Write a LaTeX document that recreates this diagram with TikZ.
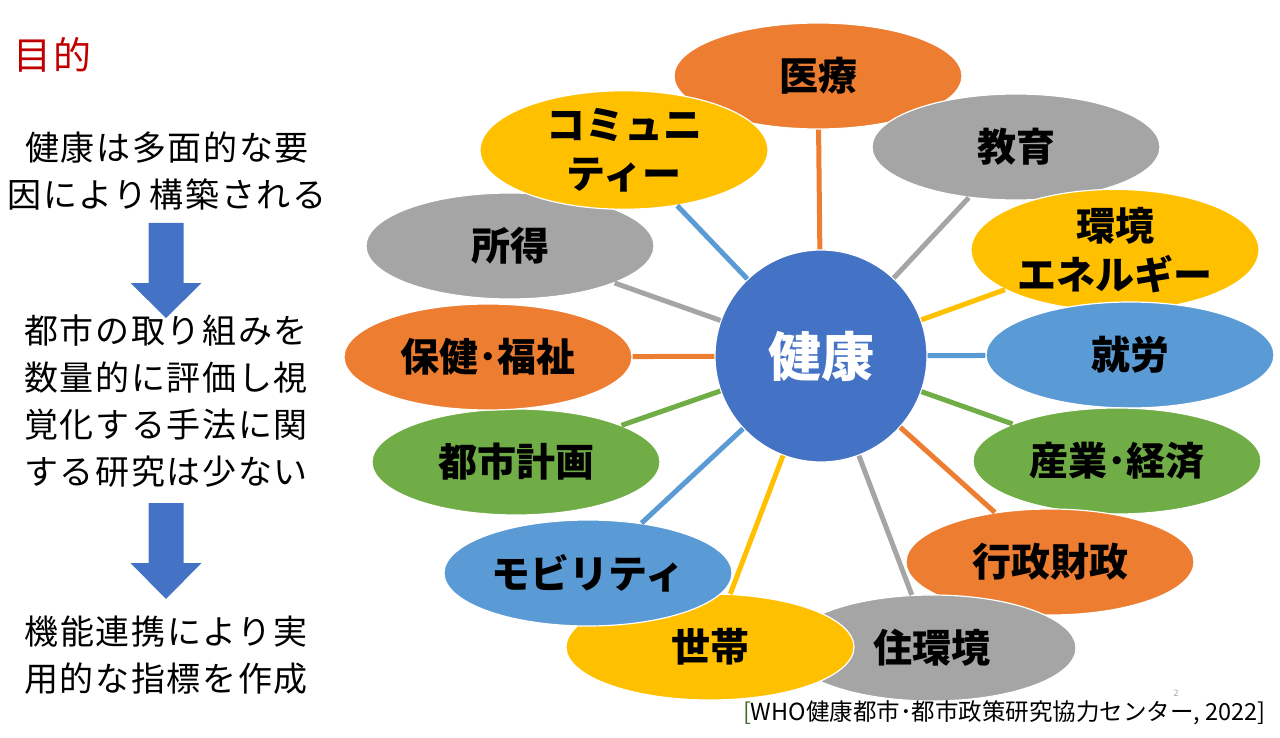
\documentclass[tikz,border=0pt]{standalone}
\usepackage{fontspec}
\usepackage{xcolor}
\usetikzlibrary{shapes.geometric, positioning}
\newfontfamily\jpfont{Noto Sans CJK JP}
\newfontfamily\jpwide{Noto Sans CJK JP}[LetterSpace=5]
\definecolor{hOrange}{HTML}{ED7D31}
\definecolor{hGray}{HTML}{A5A5A5}
\definecolor{hYellow}{HTML}{FFC000}
\definecolor{hBlue}{HTML}{5B9BD5}
\definecolor{hGreen}{HTML}{70AD47}
\definecolor{hCore}{HTML}{4472C4}
\definecolor{hRed}{HTML}{C00000}

\begin{document}
\begin{tikzpicture}[
    x=1pt, y=-1pt,
    factor/.style={ellipse, draw=white, line width=1.2pt, minimum width=288pt,
                   minimum height=106pt, inner sep=0pt, align=center,
                   font=\jpfont\bfseries\fontsize{39}{49}\selectfont},
    core/.style={circle, draw=white, line width=1.2pt, fill=hCore, minimum size=212pt,
                 inner sep=0pt, text=white, font=\jpfont\bfseries\fontsize{53}{60}\selectfont},
    body/.style={align=center, inner sep=0pt, font=\jpwide\fontsize{34}{47}\selectfont},
    spoke/.style={line width=5pt},
    flow/.style={fill=hCore},
  ]
    \useasboundingbox (0,0) rectangle (1280,738);

    % Left column
    \node[body, text=hRed, anchor=west, font=\jpwide\fontsize{38}{47}\selectfont] (goal) at (13,55) {目的};
    \node[body] (cause) at (167,171) {健康は多面的な要\\因により構築される};
    \node[body] (gap)   at (166,401) {都市の取り組みを\\数量的に評価し視\\覚化する手法に関\\する研究は少ない};
    \node[body] (aim)   at (166,655) {機能連携により実\\用的な指標を作成};

    \coordinate (flow1) at (166,223);
    \coordinate (flow2) at (166,503);
    \fill[flow] (flow1) ++(-17.5,0) -- ++(35,0) -- ++(0,60) -- ++(18,0) -- ++(-35.5,35)
      -- ++(-35.5,-35) -- ++(18,0) -- cycle;
    \fill[flow] (flow2) ++(-17.5,0) -- ++(35,0) -- ++(0,60) -- ++(18,0) -- ++(-35.5,36)
      -- ++(-35.5,-36) -- ++(18,0) -- cycle;

    % Factors
    \node[factor, fill=hOrange] (iryo)   at (818,76)   {医療};
    \node[factor, fill=hGray]   (kyoiku) at (1016,147) {教育};
    \node[factor, fill=hYellow] (kankyo) at (1115,250) {環境\\エネルギー};
    \node[factor, fill=hBlue]   (shuro)  at (1130,355) {就労};
    \node[factor, fill=hGreen]  (sangyo) at (1117,461) {産業･経済};
    \node[factor, fill=hOrange] (gyosei) at (1050,562) {行政財政};
    \node[factor, fill=hGray]   (jukan)  at (932,648)  {住環境};
    \node[factor, fill=hYellow] (setai)  at (710,647)  {世帯};
    \node[factor, fill=hBlue]   (mobil)  at (588,573)  {モビリティ};
    \node[factor, fill=hGreen]  (toshi)  at (516,462)  {都市計画};
    \node[factor, fill=hOrange] (hoken)  at (488,357)  {保健･福祉};
    \node[factor, fill=hGray]   (shotoku) at (510,246) {所得};
    \node[factor, fill=hYellow] (commu)  at (624,150)  {コミュニ\\ティー};

    % Centre
    \node[core] (health) at (821,356) {健康};

    % Spokes
    \draw[spoke, hOrange] (health) -- (iryo);
    \draw[spoke, hGray]   (health) -- (kyoiku);
    \draw[spoke, hYellow] (health) -- (kankyo);
    \draw[spoke, hBlue]   (health) -- (shuro);
    \draw[spoke, hGreen]  (health) -- (sangyo);
    \draw[spoke, hOrange] (health) -- (gyosei);
    \draw[spoke, hGray]   (health) -- (jukan);
    \draw[spoke, hYellow] (health) -- (setai);
    \draw[spoke, hBlue]   (health) -- (mobil);
    \draw[spoke, hGreen]  (health) -- (toshi);
    \draw[spoke, hOrange] (health) -- (hoken);
    \draw[spoke, hGray]   (health) -- (shotoku);
    \draw[spoke, hBlue]   (health) -- (commu);

    % Source
    \node[anchor=east, inner sep=0pt, font=\jpfont\fontsize{23.5}{25}\selectfont] (src) at (1266,713)
      {\textcolor{hGreen!60!black}{[}WHO健康都市･都市政策研究協力センター, 2022]};
    \node[inner sep=0pt, text=hGray, font=\jpfont\fontsize{9}{10}\selectfont] (slideno) at (1176,693) {2};
\end{tikzpicture}
\end{document}
